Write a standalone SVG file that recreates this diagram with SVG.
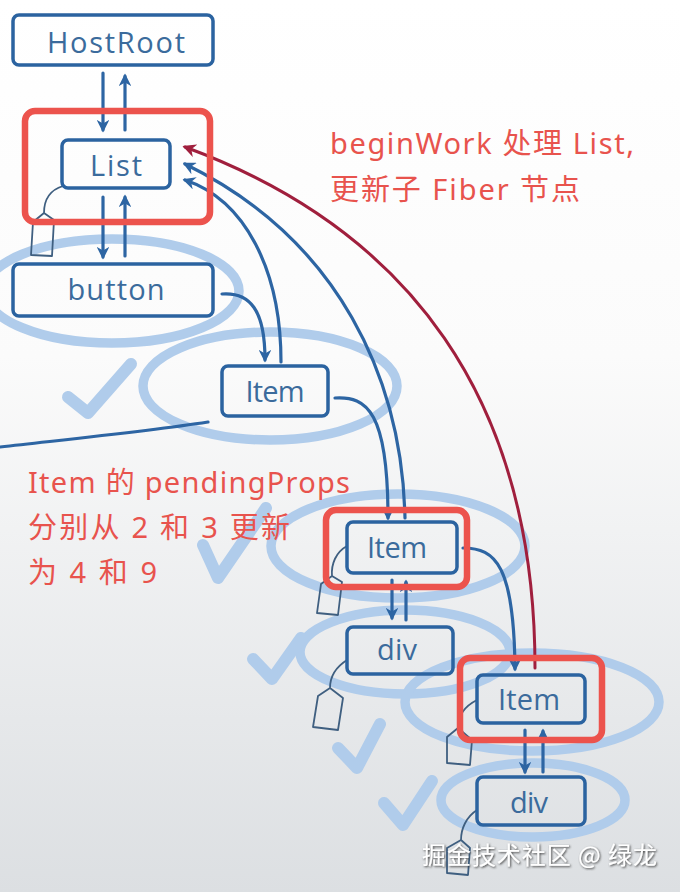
<svg xmlns="http://www.w3.org/2000/svg" width="680" height="892" viewBox="0 0 680 892">
  <defs>
    <linearGradient id="bg" x1="0" y1="0" x2="0" y2="1">
      <stop offset="0" stop-color="#ffffff"/>
      <stop offset="0.4" stop-color="#fbfbfb"/>
      <stop offset="1" stop-color="#dcdfe2"/>
    </linearGradient>
    <marker id="ab" viewBox="0 0 10 10" markerWidth="4" markerHeight="4" refX="8" refY="5" orient="auto" markerUnits="strokeWidth">
      <path d="M0,0 L10,5 L0,10 L3,5 z" fill="#2d65a3"/>
    </marker>
    <marker id="ar" viewBox="0 0 10 10" markerWidth="4.5" markerHeight="4.5" refX="8" refY="5" orient="auto" markerUnits="strokeWidth">
      <path d="M0,0 L10,5 L0,10 L3,5 z" fill="#a01f3d"/>
    </marker>
    <filter id="sh" x="-10%" y="-30%" width="120%" height="160%">
      <feDropShadow dx="1" dy="1" stdDeviation="1" flood-color="#333" flood-opacity="0.9"/>
    </filter>
    <style>
      .ell { fill: none; stroke: #b0cceb; stroke-width: 9.5; }
      .chk { fill: none; stroke: #b0cceb; stroke-width: 12; stroke-linecap: round; stroke-linejoin: round; }
      .tag { fill: none; stroke: #3f5f80; stroke-width: 1.8; stroke-linejoin: round; }
      .box { fill: none; stroke: #2b63a0; stroke-width: 3.5; }
      .lbl { font-family: "Open Sans", "DejaVu Sans", sans-serif; font-size: 29px; fill: #3b6b9c; text-anchor: middle; }
      .conn { fill: none; stroke: #2d65a3; stroke-width: 3.2; stroke-linecap: round; }
      .red { fill: none; stroke: #a01f3d; stroke-width: 3; stroke-linecap: round; }
      .hl { fill: none; stroke: #ec534d; stroke-width: 6.5; }
      .note { font-family: "Noto Sans", "Noto Sans CJK SC", sans-serif; font-size: 29px; fill: #e8534d; }
      .wm { font-family: "Noto Sans CJK SC", "Liberation Sans", sans-serif; font-size: 24px; fill: #ffffff; }
    </style>
  </defs>

  <rect x="0" y="0" width="680" height="892" fill="url(#bg)"/>

  <!-- background sketch: ellipses and checks -->
  <g id="highlights">
    <ellipse class="ell" cx="112" cy="291" rx="127" ry="52"/>
    <ellipse class="ell" cx="270" cy="386" rx="127" ry="54"/>
    <ellipse class="ell" cx="398" cy="546" rx="127" ry="52"/>
    <ellipse class="ell" cx="405" cy="652" rx="105" ry="42"/>
    <ellipse class="ell" cx="532" cy="702" rx="127" ry="49"/>
    <ellipse class="ell" cx="533" cy="800" rx="92" ry="37"/>
    <path class="chk" d="M68,397 L88,413 L131,364"/>
    <path class="chk" d="M203,545 L218,578 L266,508"/>
    <path class="chk" d="M253,659 L272,679 L301,638"/>
    <path class="chk" d="M338,748 L357,768 L380,724"/>
    <path class="chk" d="M384,803 L403,825 L432,781"/>
  </g>

  <!-- tags -->
  <g id="tags">
    <path class="tag" d="M63,186 C 50,190 44,200 44,213 L33,222 L31,255 L52,256 L54,220 L44,213"/>
    <path class="tag" d="M347,546 C 336,552 331,564 332,576 L321,584 L317,613 L338,615 L342,582 L332,576"/>
    <path class="tag" d="M347,660 C 336,667 330,677 330,688 L318,696 L313,727 L338,730 L343,698 L330,688"/>
    <path class="tag" d="M477,700 C 463,707 458,717 458,728 L447,737 L447,763 L470,765 L472,740 L458,728"/>
    <path class="tag" d="M477,810 C 466,817 461,829 461,840 L447,848 L447,873 L468,875 L470,848 L461,840"/>
  </g>

  <!-- connectors -->
  <g id="connectors">
    <path class="conn" d="M103,73 L103,130" marker-end="url(#ab)"/>
    <path class="conn" d="M125,130 L125,76" marker-end="url(#ab)"/>
    <path class="conn" d="M103,197 L103,257" marker-end="url(#ab)"/>
    <path class="conn" d="M125,256 L125,197" marker-end="url(#ab)"/>
    <path class="conn" d="M222,294 C 250,292 265,310 265,360" marker-end="url(#ab)"/>
    <path class="conn" d="M281,362 C 281,270 245,200 185,180" marker-end="url(#ab)"/>
    <path class="conn" d="M335,398 C 367,396 388,412 388,518" marker-end="url(#ab)"/>
    <path class="conn" d="M405,518 C 402,380 340,240 185,164" marker-end="url(#ab)"/>
    <path class="conn" d="M392,580 L392,618" marker-end="url(#ab)"/>
    <path class="conn" d="M406,620 L406,582" marker-end="url(#ab)"/>
    <path class="conn" d="M463,548 C 496,548 514,566 515,669" marker-end="url(#ab)"/>
    <path class="conn" d="M525,730 L525,772" marker-end="url(#ab)"/>
    <path class="conn" d="M543,772 L543,731" marker-end="url(#ab)"/>
    <path class="conn" d="M0,447 C 80,438 150,431 208,422"/>
    <path class="red" d="M535,668 C 535,400 410,230 185,147" marker-end="url(#ar)"/>
  </g>

  <!-- nodes -->
  <g id="node-hostroot">
    <rect class="box" x="13" y="15" width="200" height="50" rx="6"/>
    <text class="lbl" x="116" y="53" textLength="138">HostRoot</text>
  </g>
  <g id="node-list">
    <rect class="box" x="62" y="140" width="108" height="48" rx="6"/>
    <text class="lbl" x="116" y="176" textLength="52">List</text>
  </g>
  <g id="node-button">
    <rect class="box" x="13" y="264" width="200" height="52" rx="6"/>
    <text class="lbl" x="116" y="300" textLength="97">button</text>
  </g>
  <g id="node-item1">
    <rect class="box" x="222" y="366" width="106" height="50" rx="6"/>
    <text class="lbl" x="275" y="402" textLength="59">Item</text>
  </g>
  <g id="node-item2">
    <rect class="box" x="347" y="522" width="110" height="51" rx="6"/>
    <text class="lbl" x="397" y="558" textLength="60">Item</text>
  </g>
  <g id="node-div1">
    <rect class="box" x="347" y="627" width="106" height="47" rx="6"/>
    <text class="lbl" x="397" y="660" textLength="40">div</text>
  </g>
  <g id="node-item3">
    <rect class="box" x="477" y="675" width="108" height="48" rx="6"/>
    <text class="lbl" x="529" y="710" textLength="62">Item</text>
  </g>
  <g id="node-div2">
    <rect class="box" x="477" y="777" width="108" height="48" rx="6"/>
    <text class="lbl" x="529" y="813" textLength="38">div</text>
  </g>

  <!-- red highlights -->
  <g id="highlight-boxes">
    <rect class="hl" x="25" y="111" width="185" height="111" rx="10"/>
    <rect class="hl" x="326" y="510" width="141" height="77" rx="10"/>
    <rect class="hl" x="460" y="658" width="142" height="82" rx="10"/>
  </g>

  <!-- annotations -->
  <g id="note-top">
    <text class="note" x="330" y="154" textLength="304">beginWork 处理 List,</text>
    <text class="note" x="330" y="200" textLength="250">更新子 Fiber 节点</text>
  </g>
  <g id="note-left">
    <text class="note" x="28" y="493" textLength="322">Item 的 pendingProps</text>
    <text class="note" x="28" y="538" textLength="262">分别从 2 和 3 更新</text>
    <text class="note" x="28" y="583" textLength="129">为 4 和 9</text>
  </g>
  <g id="watermark">
    <text class="wm" x="422" y="864" textLength="235" filter="url(#sh)">掘金技术社区 @ 绿龙</text>
  </g>
</svg>
